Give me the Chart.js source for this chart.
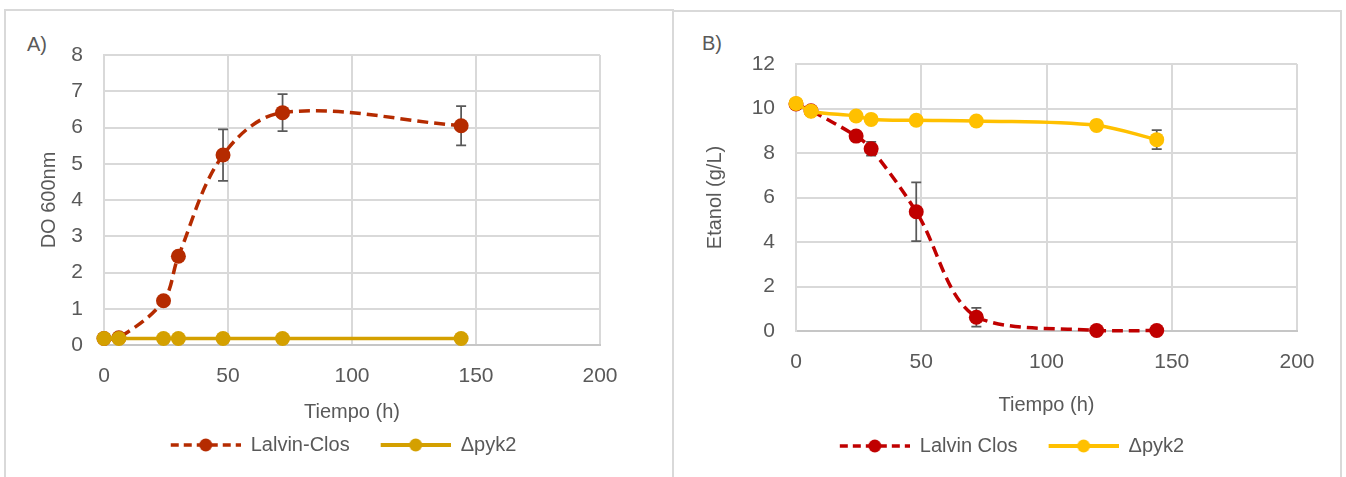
<!DOCTYPE html>
<html><head><meta charset="utf-8">
<script src="https://cdn.jsdelivr.net/npm/chart.js@4"></script>
<style>
html,body{margin:0;padding:0;background:#fff;width:1346px;height:477px;overflow:hidden;font-family:'Liberation Sans',Arial,sans-serif;}
.frame{position:absolute;border:2px solid #d9d9d9;box-sizing:border-box;}
canvas{position:absolute;}
.lbl{position:absolute;font-size:20px;color:#595959;line-height:20px;font-family:'Liberation Sans',Arial,sans-serif;}
</style></head><body>
<div class="frame" style="left:4px;top:9px;width:670px;height:520px"></div>
<div class="frame" style="left:672px;top:10px;width:670px;height:520px"></div>
<div class="lbl" style="left:27px;top:34px">A)</div>
<div class="lbl" style="left:702px;top:33px">B)</div>
<canvas id="cA" width="667" height="467" style="left:5px;top:10px"></canvas>
<canvas id="cB" width="668" height="466" style="left:673px;top:11px"></canvas>
<script>
// ---- Data ----
const timeA = [0, 6, 24, 30, 48, 72, 144];
const lalvinA = [0.18, 0.2, 1.22, 2.45, 5.24, 6.41, 6.05];
const lalvinAErr = [0, 0, 0, 0, 0.71, 0.51, 0.54];
const pyk2A = [0.18, 0.18, 0.18, 0.18, 0.18, 0.18, 0.18];

const timeB = [0, 6, 24, 30, 48, 72, 120, 144];
const lalvinB = [10.2, 9.9, 8.76, 8.19, 5.36, 0.62, 0.02, 0.02];
const lalvinBErr = [0, 0, 0, 0.31, 1.32, 0.42, 0, 0];
const pyk2B = [10.23, 9.88, 9.66, 9.51, 9.47, 9.44, 9.24, 8.6];
const pyk2BErr = [0, 0, 0, 0, 0, 0, 0, 0.43];

const xTicks = [0, 50, 100, 150, 200];
const yTicksA = [0, 1, 2, 3, 4, 5, 6, 7, 8];
const yTicksB = [0, 2, 4, 6, 8, 10, 12];

const labelsA = ['Lalvin-Clos', '\u0394pyk2'];
const labelsB = ['Lalvin Clos', '\u0394pyk2'];
const xTitle = 'Tiempo (h)';
const yTitleA = 'DO 600nm';
const yTitleB = 'Etanol (g/L)';

// ---- Helpers ----
const FONT = "'Liberation Sans', Arial, sans-serif";
const TXT = '#595959';
const GRID = '#d9d9d9';

function pts(xs, ys) { return xs.map((x, i) => ({x: x, y: ys[i]})); }

function legendIcon(color, dashed) {
  const c = document.createElement('canvas');
  c.width = 80; c.height = 16;
  const g = c.getContext('2d');
  g.strokeStyle = color;
  g.lineWidth = dashed ? 3.5 : 4;
  if (dashed) g.setLineDash([8, 5]);
  g.beginPath(); g.moveTo(10, 8); g.lineTo(80, 8); g.stroke();
  g.fillStyle = color;
  g.beginPath(); g.arc(45, 8, 6.5, 0, Math.PI * 2); g.fill();
  return c;
}

const errorBars = {
  id: 'errorBars',
  beforeDatasetsDraw(chart) {
    const ctx = chart.ctx, x = chart.scales.x, y = chart.scales.y;
    ctx.save();
    ctx.strokeStyle = '#595959';
    ctx.lineWidth = 1.75;
    chart.data.datasets.forEach(ds => {
      if (!ds.errors) return;
      ds.data.forEach((p, j) => {
        const e = ds.errors[j];
        if (!e) return;
        const px = x.getPixelForValue(p.x);
        const t = y.getPixelForValue(p.y + e);
        const b = y.getPixelForValue(p.y - e);
        ctx.beginPath();
        ctx.moveTo(px, t); ctx.lineTo(px, b);
        ctx.moveTo(px - 5, t); ctx.lineTo(px + 5, t);
        ctx.moveTo(px - 5, b); ctx.lineTo(px + 5, b);
        ctx.stroke();
      });
    });
    ctx.restore();
  }
};

function makeChart(id, cfg) {
  const icons = [legendIcon(cfg.colors[0], true), legendIcon(cfg.colors[1], false)];
  return new Chart(document.getElementById(id), {
    type: 'line',
    data: {
      datasets: [
        {
          label: cfg.labels[0], data: cfg.d0, errors: cfg.e0,
          borderColor: cfg.colors[0], backgroundColor: cfg.colors[0],
          borderWidth: 3.5, borderDash: [11, 6], tension: 0.35,
          pointRadius: 7.5, pointBorderWidth: 0, pointBackgroundColor: cfg.colors[0],
          pointHoverRadius: 7.5, order: 1, clip: false
        },
        {
          label: cfg.labels[1], data: cfg.d1, errors: cfg.e1,
          borderColor: cfg.colors[1], backgroundColor: cfg.colors[1],
          borderWidth: 3.5, tension: 0.35,
          pointRadius: 7.5, pointBorderWidth: 0, pointBackgroundColor: cfg.colors[1],
          pointHoverRadius: 7.5, order: 0, clip: false
        }
      ]
    },
    options: {
      responsive: false,
      animation: false,
      events: [],
      layout: {padding: {top: cfg.padTop, right: 0, bottom: cfg.padBottom, left: 0}},
      plugins: {
        tooltip: {enabled: false},
        legend: {
          position: 'bottom',
          labels: {
            usePointStyle: true,
            pointStyleWidth: 80,
            padding: 21,
            color: TXT,
            font: {family: FONT, size: 20},
            generateLabels: (chart) => chart.data.datasets.map((ds, i) => ({
              text: ds.label, pointStyle: icons[i], fillStyle: 'transparent',
              strokeStyle: 'transparent', lineWidth: 0, datasetIndex: i, hidden: false, fontColor: TXT
            }))
          }
        }
      },
      scales: {
        x: {
          type: 'linear', min: xTicks[0], max: xTicks[xTicks.length - 1],
          afterBuildTicks: s => { s.ticks = xTicks.map(v => ({value: v})); },
          afterFit: s => { s.height = cfg.xAxisH; },
          grid: {color: GRID, lineWidth: 2, drawTicks: false},
          border: {color: '#c6c6c6', width: 2},
          ticks: {color: TXT, font: {family: FONT, size: 21}, padding: 19, maxRotation: 0},
          title: {display: true, text: xTitle, color: TXT, font: {family: FONT, size: 20},
                  padding: {top: 0, bottom: cfg.xTitlePad}}
        },
        y: {
          type: 'linear', min: cfg.yTicks[0], max: cfg.yTicks[cfg.yTicks.length - 1],
          afterBuildTicks: s => { s.ticks = cfg.yTicks.map(v => ({value: v})); },
          afterFit: s => { s.width = cfg.yAxisW; },
          grid: {color: GRID, lineWidth: 2, drawTicks: false},
          border: {color: GRID, width: 2},
          ticks: {color: TXT, font: {family: FONT, size: 21}, padding: cfg.yTickPad},
          title: {display: true, text: cfg.yTitle, color: TXT, font: {family: FONT, size: 20},
                  padding: {top: cfg.yTitlePad, bottom: 0}}
        },
        yR: {
          type: 'linear', position: 'right', display: true,
          afterFit: s => { s.width = cfg.rightW; },
          grid: {display: false, drawTicks: false}, border: {display: false},
          ticks: {display: false}
        }
      }
    },
    plugins: [errorBars]
  });
}

makeChart('cA', {
  labels: labelsA, colors: ['#B52B00', '#D4A000'],
  d0: pts(timeA, lalvinA), e0: lalvinAErr,
  d1: pts(timeA, pyk2A), e1: null,
  yTicks: yTicksA, yTitle: yTitleA,
  padTop: 45, padBottom: 12, yAxisW: 99, rightW: 72, xAxisH: 69,
  xTitlePad: -10, yTitlePad: 32, yTickPad: 21
});

makeChart('cB', {
  labels: labelsB, colors: ['#C00000', '#FFC000'],
  d0: pts(timeB, lalvinB), e0: lalvinBErr,
  d1: pts(timeB, pyk2B), e1: pyk2BErr,
  yTicks: yTicksB, yTitle: yTitleB,
  padTop: 53, padBottom: 11, yAxisW: 123, rightW: 44, xAxisH: 84,
  xTitlePad: -2, yTitlePad: 30, yTickPad: 21
});
</script>
</body></html>
